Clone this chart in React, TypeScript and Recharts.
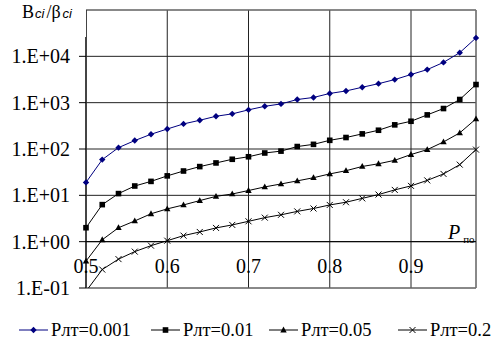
import React from 'react';
import {
    LineChart, Line, XAxis, YAxis, CartesianGrid, ReferenceLine, ReferenceArea, Legend,
} from 'recharts';

const FONT = "'Liberation Serif', Tinos, 'Times New Roman', 'DejaVu Serif', serif";
const SANS = "'Liberation Sans', Arial, sans-serif";

// P по values (x axis)
const pValues = [
    0.5, 0.52, 0.54, 0.56, 0.58, 0.6, 0.62, 0.64, 0.66, 0.68, 0.7, 0.72, 0.74,
    0.76, 0.78, 0.8, 0.82, 0.84, 0.86, 0.88, 0.9, 0.92, 0.94, 0.96, 0.98,
];

// Bci/βci for each Pлт
const p001 = [19, 59, 107, 152, 208, 270, 348, 417, 509, 573, 700, 834, 940, 1170, 1295, 1580, 1790, 2150, 2570, 3150, 4050, 5170, 7400, 12000, 25000];
const p01 = [2.0, 6.3, 10.9, 15.9, 20, 26.3, 33.5, 41.7, 50, 60, 68, 82, 90, 113, 126, 154, 177, 212, 254, 332, 397, 545, 747, 1170, 2460];
const p05 = [0.38, 1.1, 2.0, 2.8, 4.0, 5.1, 6.2, 7.7, 9.5, 10.7, 12.7, 15.2, 17.6, 20.5, 24, 29, 34, 42, 48, 57, 76, 97, 142, 223, 447];
const p2 = [0.085, 0.25, 0.42, 0.61, 0.82, 1.05, 1.35, 1.62, 1.98, 2.3, 2.75, 3.3, 3.8, 4.5, 5.2, 6.2, 7.1, 8.6, 10.4, 13.1, 16, 21, 29, 46, 97];

const xTicks = [0.5, 0.6, 0.7, 0.8, 0.9];
const yTicks = [0.1, 1, 10, 100, 1000, 10000, 100000];

const data = pValues.map((x, i) => ({ x, a: p001[i], b: p01[i], c: p05[i], d: p2[i] }));

type Shape = 'diamond' | 'square' | 'triangle' | 'cross';

// legend slot widths follow the reference spacing
const SERIES: { key: string; name: string; color: string; shape: Shape; slot: number }[] = [
    { key: 'a', name: 'Pлт=0.001', color: '#000080', shape: 'diamond', slot: 132 },
    { key: 'b', name: 'Pлт=0.01', color: '#000000', shape: 'square', slot: 118 },
    { key: 'c', name: 'Pлт=0.05', color: '#000000', shape: 'triangle', slot: 129 },
    { key: 'd', name: 'Pлт=0.2', color: '#000000', shape: 'cross', slot: 94 },
];

function marker(shape: Shape, cx: number, cy: number, color: string, key?: React.Key) {
    if (shape === 'diamond') {
        return <polygon key={key} points={`${cx},${cy - 3.2} ${cx + 3.2},${cy} ${cx},${cy + 3.2} ${cx - 3.2},${cy}`} fill={color} />;
    }
    if (shape === 'square') {
        return <rect key={key} x={cx - 2.8} y={cy - 2.8} width={5.6} height={5.6} fill={color} />;
    }
    if (shape === 'triangle') {
        return <polygon key={key} points={`${cx},${cy - 3.4} ${cx + 3.2},${cy + 2.4} ${cx - 3.2},${cy + 2.4}`} fill={color} />;
    }
    return (
        <g key={key} stroke={color} strokeWidth={1}>
            <line x1={cx - 3} y1={cy - 3} x2={cx + 3} y2={cy + 3} />
            <line x1={cx - 3} y1={cy + 3} x2={cx + 3} y2={cy - 3} />
        </g>
    );
}

function makeDot(shape: Shape, color: string) {
    return (props: any) => {
        const { cx, cy, index } = props;
        if (cx == null || cy == null) return <g key={index} />;
        return marker(shape, cx, cy, color, index);
    };
}

function fmtLog(v: number): string {
    const e = Math.round(Math.log10(v));
    const sign = e < 0 ? '-' : '+';
    return `1.E${sign}${String(Math.abs(e)).padStart(2, '0')}`;
}

function XTick(props: any) {
    const { x, y, payload } = props;
    return (
        <text x={x} y={y} dy={-15.5} textAnchor="middle" fill="#000" fontSize={20} fontFamily={FONT}>
            {Number(payload.value).toFixed(1)}
        </text>
    );
}

function YTick(props: any) {
    const { x, y, payload } = props;
    return (
        <text x={x} y={y} dy={7} textAnchor="end" fill="#000" fontSize={20} fontFamily={FONT}>
            {fmtLog(payload.value)}
        </text>
    );
}

function PLabel(props: any) {
    const { viewBox } = props;
    const right = viewBox.x + viewBox.width;
    return (
        <text x={right - 28} y={viewBox.y - 3} fill="#000" fontFamily={FONT}>
            <tspan fontSize={20} fontStyle="italic">P</tspan>
            <tspan fontSize={11} dx={3} dy={4}>по</tspan>
        </text>
    );
}

function LegendContent() {
    return (
        <div style={{ display: 'flex', alignItems: 'center', fontFamily: FONT, fontSize: 18.5, color: '#000', whiteSpace: 'nowrap', height: 24 }}>
            {SERIES.map((s) => (
                <div key={s.key} style={{ display: 'flex', alignItems: 'center', width: s.slot, flex: 'none' }}>
                    <svg width={29} height={12} style={{ marginRight: 3, flex: 'none' }}>
                        <line x1={0} y1={6} x2={29} y2={6} stroke={s.color} strokeWidth={1} />
                        {marker(s.shape, 14.5, 6, s.color)}
                    </svg>
                    <span>{s.name}</span>
                </div>
            ))}
        </div>
    );
}

export default function App() {
    return (
        <div style={{ position: 'absolute', left: 0, top: 0, width: 493, height: 345, background: '#fff' }}>
            <LineChart width={493} height={345} data={data} margin={{ top: 10, right: 17, bottom: 33, left: 0 }}>
                <CartesianGrid stroke="#222" strokeWidth={1} />
                <XAxis
                    dataKey="x"
                    type="number"
                    domain={[0.5, 0.98]}
                    ticks={xTicks}
                    height={24}
                    mirror
                    axisLine={false}
                    tickLine={false}
                    tickSize={0}
                    tickMargin={0}
                    tick={<XTick />}
                    interval={0}
                />
                <YAxis
                    scale="log"
                    domain={[0.1, 100000]}
                    ticks={yTicks}
                    allowDataOverflow
                    width={86}
                    interval={0}
                    tickSize={7}
                    tickMargin={9}
                    tickLine={{ stroke: '#000' }}
                    axisLine={{ stroke: '#000' }}
                    tick={<YTick />}
                />
                <ReferenceArea x1={0.5} x2={0.98} y1={0.1} y2={100000} fill="none" stroke="#808080" strokeWidth={1} ifOverflow="visible" />
                <ReferenceLine y={1} stroke="#000" strokeWidth={1} label={<PLabel />} />
                {SERIES.map((s) => (
                    <Line
                        key={s.key}
                        dataKey={s.key}
                        name={s.name}
                        type="linear"
                        stroke={s.color}
                        strokeWidth={1}
                        dot={makeDot(s.shape, s.color)}
                        activeDot={false}
                        isAnimationActive={false}
                    />
                ))}
                <Legend
                    content={<LegendContent />}
                    wrapperStyle={{ position: 'absolute', left: 19, top: 318, width: 'auto', height: 24 }}
                />
            </LineChart>
            {/* y-axis title; its white box hides the top of the axis line like in the original */}
            <div
                style={{
                    position: 'absolute', left: 0, top: 0, width: 86, height: 37, background: '#fff',
                    fontFamily: FONT, fontSize: 18, color: '#000', whiteSpace: 'nowrap',
                }}
            >
                <span style={{ position: 'absolute', left: 22, top: 2 }}>
                    В<i style={{ fontFamily: SANS, fontSize: 13, marginLeft: 1, paddingRight: 2 }}>ci</i>
                    <span style={{ paddingRight: 1 }}>/β</span>
                    <i style={{ fontFamily: SANS, fontSize: 13, marginLeft: 1 }}>ci</i>
                </span>
            </div>
        </div>
    );
}
